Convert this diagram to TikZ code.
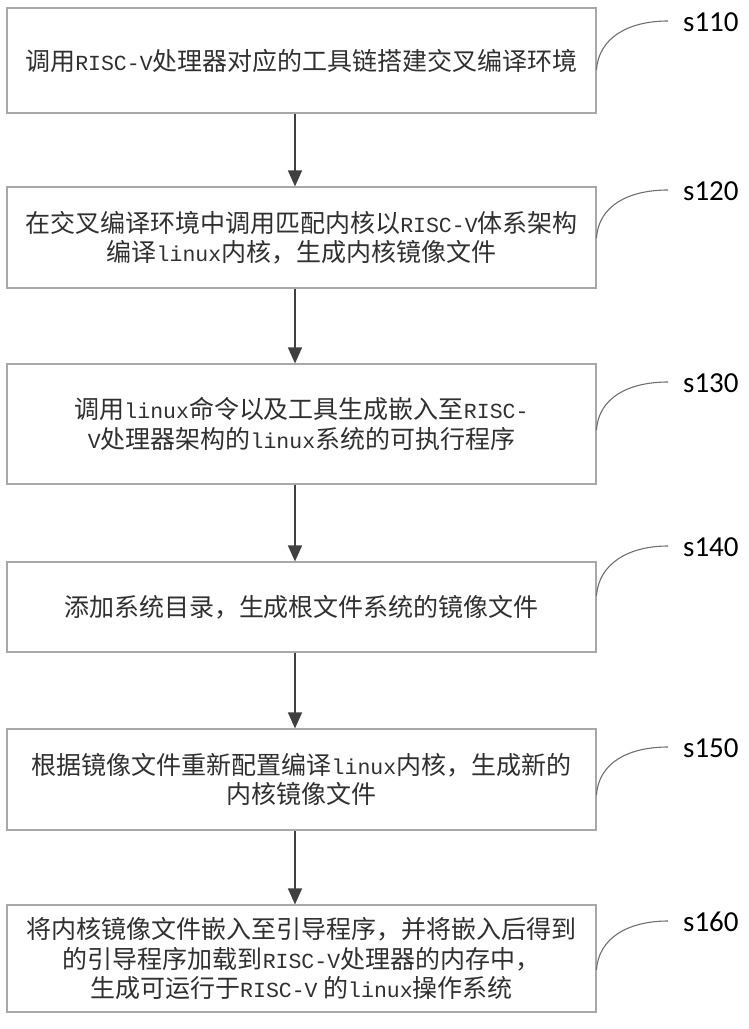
\documentclass[tikz,border=0pt]{standalone}
\usepackage{fontspec}
\setmainfont{Noto Sans CJK SC}
\newfontfamily\latfont{Liberation Mono}
\newfontfamily\labfont{Carlito}
\newcommand\LT[1]{{\latfont\fontsize{21.5}{29.5}\selectfont #1}}
\usetikzlibrary{arrows.meta}
\definecolor{boxgray}{HTML}{A8A8A8}
\definecolor{arrgray}{HTML}{404040}
\definecolor{txtgray}{HTML}{303030}
\definecolor{curvegray}{HTML}{707070}
\tikzset{
  stepbox/.style={draw=boxgray, line width=1.2pt, rectangle, minimum width=589pt, inner sep=0pt,
    align=center, text=txtgray, font=\fontsize{25}{29.5}\selectfont},
  flow/.style={draw=arrgray, line width=1.5pt, -{Triangle[length=16pt,width=14pt]}},
  leader/.style={draw=curvegray, line width=1.1pt},
  steplabel/.style={inner sep=0pt, anchor=west, text=black, font=\labfont\fontsize{29}{32}\selectfont}
}
\begin{document}
\begin{tikzpicture}[x=1pt,y=-1pt]
\useasboundingbox (0,0) rectangle (748,1029);
\fill[white] (0,0) rectangle (748,1029);

\node[stepbox, minimum height=105pt] (b1) at (301.5,60.5) {调用\LT{RISC-V}处理器对应的工具链搭建交叉编译环境};
\node[stepbox, minimum height=101pt] (b2) at (301.5,237.5) {在交叉编译环境中调用匹配内核以\LT{RISC-V}体系架构\\编译\LT{linux}内核，生成内核镜像文件};
\node[stepbox, minimum height=120pt] (b3) at (301.5,424) {调用\LT{linux}命令以及工具生成嵌入至\LT{RISC-}\\\LT{V}处理器架构的\LT{linux}系统的可执行程序};
\node[stepbox, minimum height=90pt] (b4) at (301.5,607) {添加系统目录，生成根文件系统的镜像文件};
\node[stepbox, minimum height=101pt] (b5) at (301.5,779.5) {根据镜像文件重新配置编译\LT{linux}内核，生成新的\\内核镜像文件};
\node[stepbox, minimum height=107pt] (b6) at (301.5,958.5) {将内核镜像文件嵌入至引导程序，并将嵌入后得到\\的引导程序加载到\LT{RISC-V}处理器的内存中，\\生成可运行于\LT{RISC-V} 的\LT{linux}操作系统};

\coordinate (ax) at (295,0);
\draw[flow] (b1.south -| ax) -- (b2.north -| ax);
\draw[flow] (b2.south -| ax) -- (b3.north -| ax);
\draw[flow] (b3.south -| ax) -- (b4.north -| ax);
\draw[flow] (b4.south -| ax) -- (b5.north -| ax);
\draw[flow] (b5.south -| ax) -- (b6.north -| ax);

\node[steplabel] (l1) at (683,22) {s110};
\node[steplabel] (l2) at (683,191) {s120};
\node[steplabel] (l3) at (683,383) {s130};
\node[steplabel] (l4) at (683,547) {s140};
\node[steplabel] (l5) at (683,748) {s150};
\node[steplabel] (l6) at (683,922) {s160};

\coordinate (c1) at (596.5,70);
\coordinate (c2) at (596.5,238);
\coordinate (c3) at (596.5,430);
\coordinate (c4) at (596.5,596);
\coordinate (c5) at (596.5,795);
\coordinate (c6) at (596.5,970);
\foreach \i in {1,...,6}{
  \draw[leader] (c\i) .. controls +(2,-32) and +(-40,0) .. ([xshift=-15pt,yshift=1pt]l\i.west);
}
\end{tikzpicture}
\end{document}
